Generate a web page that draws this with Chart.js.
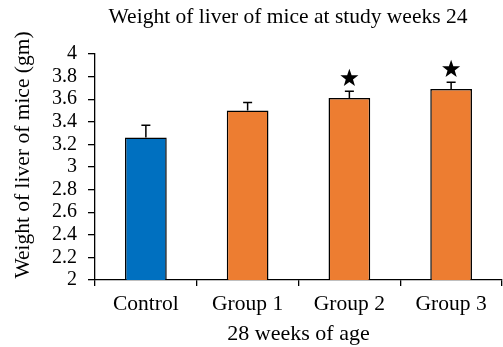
<!DOCTYPE html>
<html>
<head>
<meta charset="utf-8">
<script src="https://cdn.jsdelivr.net/npm/chart.js@4/dist/chart.umd.min.js"></script>
<style>
  html, body { margin: 0; padding: 0; background: #fff; }
  #wrap { width: 503px; height: 347px; }
</style>
</head>
<body>
<div id="wrap"><canvas id="c" width="503" height="347"></canvas></div>
<script>
// Liver weight (gm) at study week 24, mice 28 weeks of age
const categories = ['Control', 'Group 1', 'Group 2', 'Group 3'];
const meanWeight = [3.26, 3.50, 3.61, 3.69];
const errorSD = [0.11, 0.07, 0.06, 0.06];
const significant = [false, false, true, true];
const yTicks = [2, 2.2, 2.4, 2.6, 2.8, 3, 3.2, 3.4, 3.6, 3.8, 4];
const barColors = ['#0070C0', '#ED7D31', '#ED7D31', '#ED7D31'];
const chartTitle = 'Weight of liver of mice at study weeks 24';
const yTitle = 'Weight of liver of mice (gm)';
const xTitle = '28 weeks of age';

const FONT = '"Liberation Serif", "Times New Roman", serif';

// chart title and y-axis title, placed freely on the canvas
const titlesPlugin = {
  id: 'titles',
  afterDraw(chart) {
    const ctx = chart.ctx;
    ctx.save();
    ctx.fillStyle = '#000';
    ctx.textAlign = 'center';
    ctx.textBaseline = 'middle';
    ctx.font = '21.5px ' + FONT;
    ctx.fillText(chartTitle, 288, 17);
    ctx.translate(23, 155);
    ctx.rotate(-Math.PI / 2);
    ctx.fillText(yTitle, 0, 0);
    ctx.restore();
  }
};

// error bars (upper whisker only) and significance stars
const errorBarPlugin = {
  id: 'errorBars',
  afterDatasetsDraw(chart) {
    const ctx = chart.ctx;
    const meta = chart.getDatasetMeta(0);
    const y = chart.scales.y;
    ctx.save();
    ctx.strokeStyle = '#000';
    ctx.fillStyle = '#000';
    ctx.lineWidth = 1.5;
    meta.data.forEach((bar, i) => {
      const x = bar.x;
      const y0 = y.getPixelForValue(meanWeight[i]);
      const y1 = y.getPixelForValue(meanWeight[i] + errorSD[i]);
      ctx.beginPath();
      ctx.moveTo(x, y0);
      ctx.lineTo(x, y1);
      ctx.moveTo(x - 4.5, y1);
      ctx.lineTo(x + 4.5, y1);
      ctx.stroke();
      if (significant[i]) {
        const cy = y1 - 14;
        const R = 9.5, r = 3.8;
        ctx.beginPath();
        for (let k = 0; k < 10; k++) {
          const rad = k % 2 === 0 ? R : r;
          const a = -Math.PI / 2 + k * Math.PI / 5;
          const px = x + rad * Math.cos(a);
          const py = cy + 1 + rad * Math.sin(a);
          if (k === 0) ctx.moveTo(px, py); else ctx.lineTo(px, py);
        }
        ctx.closePath();
        ctx.fill();
      }
    });
    ctx.restore();
  }
};

new Chart(document.getElementById('c'), {
  type: 'bar',
  data: {
    labels: categories,
    datasets: [{
      data: meanWeight,
      backgroundColor: barColors,
      borderColor: '#000',
      borderWidth: 1.5,
      borderSkipped: false,
      categoryPercentage: 1,
      barPercentage: 0.41
    }]
  },
  options: {
    responsive: false,
    animation: false,
    devicePixelRatio: 1,
    layout: { padding: { left: 0, right: 1, top: 54, bottom: 0 } },
    plugins: {
      legend: { display: false },
      tooltip: { enabled: false },
      title: { display: false }
    },
    scales: {
      x: {
        border: { display: true, color: '#000', width: 1.3 },
        grid: { display: true, drawOnChartArea: false, drawTicks: true, tickLength: 6, color: '#000', lineWidth: 1.3, offset: true },
        ticks: { color: '#000', font: { family: FONT, size: 21.5 }, padding: 5, maxRotation: 0 },
        title: { display: true, text: xTitle, color: '#000', font: { family: FONT, size: 22 }, padding: { top: 0, bottom: 0 } },
        afterFit(scale) { scale.height = 67; }
      },
      y: {
        min: 2,
        max: 4,
        afterBuildTicks(scale) { scale.ticks = yTicks.map(v => ({ value: v })); },
        border: { display: true, color: '#000', width: 1.3 },
        grid: { display: true, drawOnChartArea: false, drawTicks: true, tickLength: 7, color: '#000', lineWidth: 1.3 },
        ticks: { color: '#000', font: { family: FONT, size: 20 }, padding: 11, autoSkip: false, callback: v => String(+v.toFixed(1)) },
        title: { display: false },
        afterFit(scale) { scale.width = 95; }
      }
    }
  },
  plugins: [errorBarPlugin, titlesPlugin]
});
</script>
</body>
</html>
